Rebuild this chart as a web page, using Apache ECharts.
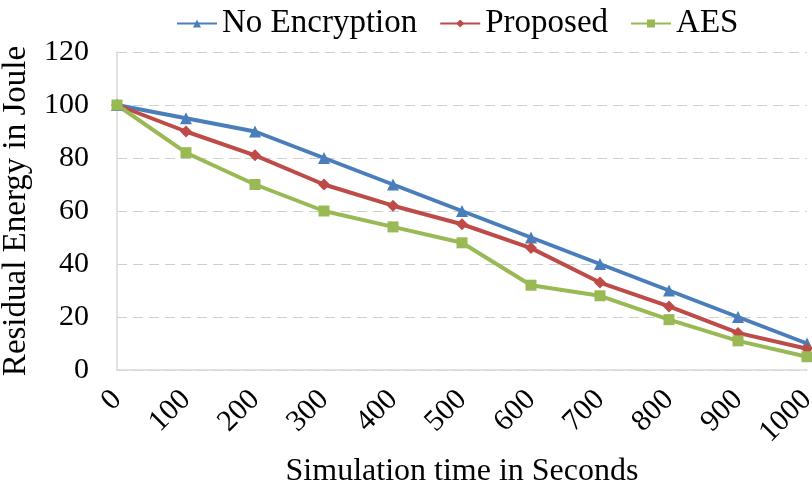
<!DOCTYPE html>
<html>
<head>
<meta charset="utf-8">
<script src="https://cdn.jsdelivr.net/npm/echarts@6/dist/echarts.min.js"></script>
<style>
html,body{margin:0;padding:0;background:#fff;}
#chart{width:812px;height:499px;}
</style>
</head>
<body>
<div id="chart"></div>
<script>
// simulation time (s)
var times = ['0','100','200','300','400','500','600','700','800','900','1000'];
// residual energy (J)
var noEncryption = [100,95,90,80,70,60,50,40,30,20,10];
var proposed = [100,90,81,70,62,55,46,33,24,14,8];
var aes = [100,82,70,60,54,48,32,28,19,11,5];

var font = '"Liberation Serif","Times New Roman",serif';
var chart = echarts.init(document.getElementById('chart'));

function mkSeries(name, data, color, symbol, size){
    return {
        name: name,
        type: 'line',
        data: data,
        symbol: symbol,
        symbolSize: size,
        lineStyle: {color: color, width: 4},
        itemStyle: {color: color},
        animation: false
    };
}

var option = {
    backgroundColor: '#fff',
    textStyle: {fontFamily: font},
    legend: {
        top: 2,
        left: 171,
        itemWidth: 40,
        itemHeight: 10,
        itemGap: 22,
        textStyle: {fontFamily: font, fontSize: 33, color: '#000'},
        data: ['No Encryption','Proposed','AES']
    },
    grid: {left: 117, right: 5, top: 52, bottom: 129, containLabel: false, outerBoundsMode: 'none'},
    xAxis: {
        type: 'category',
        data: times,
        boundaryGap: false,
        name: 'Simulation time in Seconds',
        nameLocation: 'middle',
        nameGap: 86,
        nameTextStyle: {fontFamily: font, fontSize: 32, color: '#000'},
        axisLine: {lineStyle: {color: '#d9d9d9', width: 1.5}},
        axisTick: {show: false},
        axisLabel: {rotate: 45, fontFamily: font, fontSize: 30, color: '#000', margin: 25}
    },
    yAxis: {
        type: 'value',
        min: 0,
        max: 120,
        interval: 20,
        name: 'Residual Energy in Joule',
        nameLocation: 'middle',
        nameGap: 75,
        nameTextStyle: {fontFamily: font, fontSize: 33, color: '#000'},
        axisLine: {show: true, lineStyle: {color: '#d9d9d9', width: 1.5}},
        axisTick: {show: false},
        axisLabel: {fontFamily: font, fontSize: 30, color: '#000', margin: 28},
        splitLine: {lineStyle: {color: '#d0d0d0', type: [10, 6], width: 1.2}}
    },
    series: [
        mkSeries('No Encryption', noEncryption, '#4a7ebb', 'triangle', 12),
        mkSeries('Proposed', proposed, '#be4b48', 'diamond', 12),
        mkSeries('AES', aes, '#98b954', 'rect', 11)
    ]
};
chart.setOption(option);
</script>
</body>
</html>
